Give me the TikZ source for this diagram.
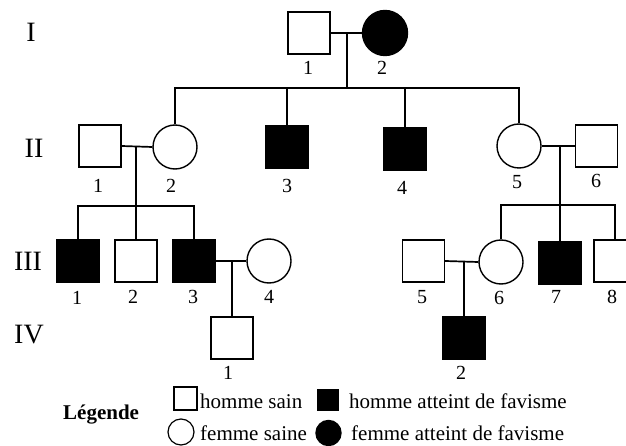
\documentclass[tikz,border=0pt]{standalone}
\usepackage{fontspec}
\setmainfont{Liberation Serif}
\begin{document}
\begin{tikzpicture}[x=1pt,y=-1pt,
  male/.style={draw, line width=1.4pt, rectangle, minimum width=42pt, minimum height=42pt, inner sep=0pt},
  female/.style={draw, line width=1.4pt, circle, minimum size=44pt, inner sep=0pt},
  ill/.style={fill=black},
  link/.style={line width=1.7pt},
  num/.style={inner sep=0pt, font=\fontsize{20}{24}\selectfont},
  gen/.style={inner sep=0pt, font=\fontsize{28}{32}\selectfont},
  leg/.style={inner sep=0pt, anchor=base west, font=\fontsize{21}{25}\selectfont}]
\useasboundingbox (0,0) rectangle (626,446);
\begin{scope}
\clip (0,0) rectangle (626,446);
% generation labels
\node[gen] (gI) at (31,32) {I};
\node[gen] (gII) at (34,148) {II};
\node[gen] (gIII) at (28,261) {III};
\node[gen] (gIV) at (29,335) {IV};
% generation I
\node[male] (I1) at (309,33) {};
\node[female, ill, minimum size=45pt] (I2) at (385,33) {};
\node[num] (nI1) at (308,68) {1};
\node[num] (nI2) at (382,68) {2};
% generation II
\node[male] (II1) at (100,146) {};
\node[female] (II2) at (175,147) {};
\node[male, ill] (II3) at (287,147) {};
\node[male, ill] (II4) at (405,149) {};
\node[female] (II5) at (519,146) {};
\node[male] (II6) at (596.5,146) {};
\node[num] (nII1) at (98,186) {1};
\node[num] (nII2) at (171,186) {2};
\node[num] (nII3) at (287,186) {3};
\node[num] (nII4) at (402,188) {4};
\node[num] (nII5) at (517,182) {5};
\node[num] (nII6) at (596,181) {6};
% generation III
\node[male, ill] (III1) at (78,261) {};
\node[male] (III2) at (136,261) {};
\node[male, ill] (III3) at (194,261) {};
\node[female] (III4) at (269,261) {};
\node[male] (III5) at (423.5,261) {};
\node[female] (III6) at (501,262) {};
\node[male, ill] (III7) at (560,263) {};
\node[male] (III8) at (615,261) {};
\node[num] (nIII1) at (77,298) {1};
\node[num] (nIII2) at (133,297) {2};
\node[num] (nIII3) at (193,297) {3};
\node[num] (nIII4) at (269,297) {4};
\node[num] (nIII5) at (422,297) {5};
\node[num] (nIII6) at (499,298) {6};
\node[num] (nIII7) at (556,297) {7};
\node[num] (nIII8) at (612,297) {8};
% generation IV
\node[male] (IV1) at (232,338) {};
\node[male, ill] (IV2) at (464,338) {};
\node[num] (nIV1) at (228,373) {1};
\node[num] (nIV2) at (461,373) {2};
% connectors generation I
\coordinate (mI) at (347,33);
\coordinate (sI) at (347,88);
\draw[link] (I1.east) -- (I2.west);
\draw[link] (mI) -- (sI);
\draw[link] (II2.north) -- (II2.north |- sI) -- (II5.north |- sI) -- (II5.north);
\draw[link] (II3.north) -- (II3.north |- sI);
\draw[link] (II4.north) -- (II4.north |- sI);
% connectors generation II left
\coordinate (sIIa) at (136,206);
\draw[link] (II1.east) -- (II2.west);
\draw[link] (II1.east -| III2.north) -- (III2.north);
\draw[link] (III1.north) -- (III1.north |- sIIa) -- (III3.north |- sIIa) -- (III3.north);
% connectors generation II right
\coordinate (sIIb) at (560,205);
\draw[link] (II5.east) -- (II6.west);
\draw[link] (II5.east -| III7.north) -- (III7.north);
\draw[link] (III6.north) -- (III6.north |- sIIb) -- (III8.north |- sIIb) -- (III8.north);
% connectors generation III
\draw[link] (III3.east) -- (III4.west);
\draw[link] (III3.east -| IV1.north) -- (IV1.north);
\draw[link] (III5.east) -- (III6.west);
\draw[link] (III5.east -| IV2.north) -- (IV2.north);
\end{scope}
% legend
\node[leg, font=\bfseries\fontsize{21}{25}\selectfont] (lt) at (63,419) {Légende};
\node[male, line width=1.2pt, minimum width=23pt, minimum height=23pt] (lm) at (185.5,398.5) {};
\node[leg] (lmt) at (200,408) {homme sain};
\node[male, ill, minimum width=20pt, minimum height=20pt] (lma) at (328,400) {};
\node[leg] (lmat) at (349,408) {homme atteint de favisme};
\node[female, line width=1.2pt, minimum size=26pt] (lf) at (181,432) {};
\node[leg] (lft) at (200,440) {femme saine};
\node[female, ill, minimum size=25pt] (lfa) at (328.5,433) {};
\node[leg] (lfat) at (351,440) {femme atteint de favisme};
\end{tikzpicture}
\end{document}
